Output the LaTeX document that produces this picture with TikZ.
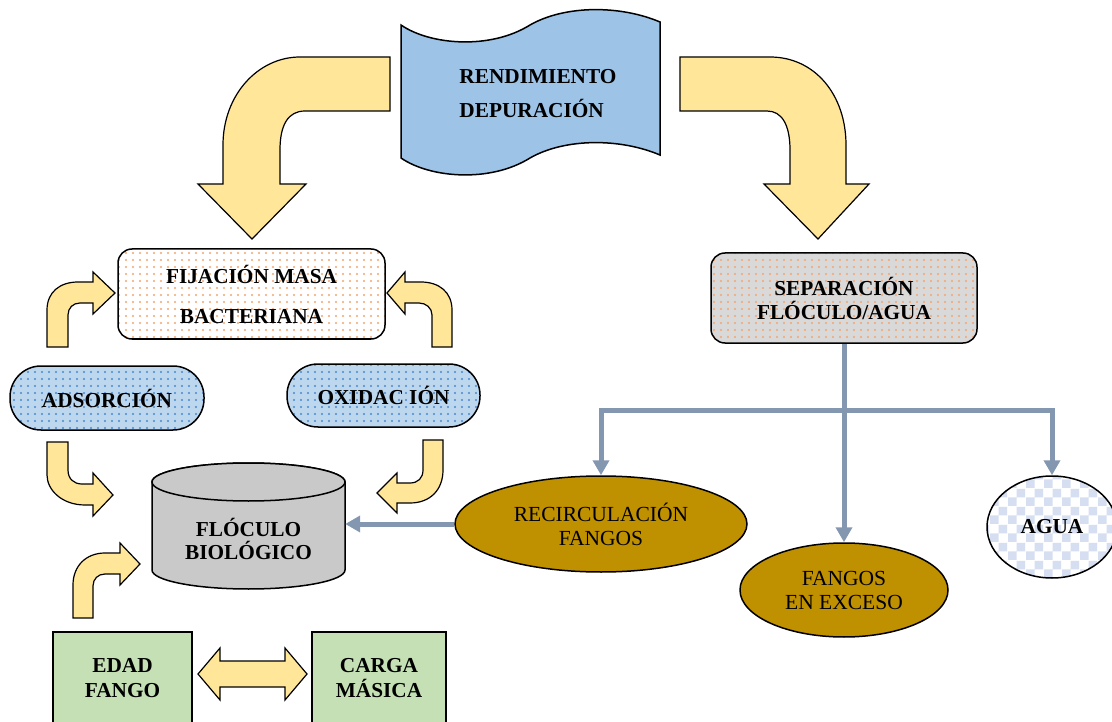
\documentclass[tikz,border=0pt]{standalone}
\usepackage{fontspec}
\setmainfont{Liberation Serif}
\usetikzlibrary{shapes.geometric,arrows.meta,patterns.meta}

\definecolor{bannerblue}{HTML}{9DC3E6}
\definecolor{arrowgold}{HTML}{FFE699}
\definecolor{cylgray}{HTML}{C9C9C9}
\definecolor{boxgreen}{HTML}{C5E0B4}
\definecolor{sludge}{HTML}{BF9000}
\definecolor{pipeblue}{HTML}{8497B0}
\definecolor{capblue}{HTML}{BDD7EE}
\definecolor{capdot}{HTML}{4A88CC}
\definecolor{peachdot}{HTML}{F2A571}
\definecolor{sepgray}{HTML}{D9D9D9}
\definecolor{checkblue}{HTML}{D6DFF2}

% light checkerboard used for the water ellipse
\tikzdeclarepattern{
  name=checks,
  type=uncolored,
  bottom left={(0pt,0pt)},
  top right={(18pt,18pt)},
  tile size={(18pt,18pt)},
  code={
    \pgfpathrectangle{\pgfpointorigin}{\pgfpoint{9pt}{9pt}}
    \pgfpathrectangle{\pgfpoint{9pt}{9pt}}{\pgfpoint{9pt}{9pt}}
    \pgfusepath{fill}
  }
}

\begin{document}
\begin{tikzpicture}[x=1pt,y=-1pt,
  every node/.style={inner sep=0pt, align=center,
    font=\fontsize{21.3}{24}\selectfont\bfseries},
  outline/.style={draw=black, line width=1.5pt},
  blockarrow/.style={fill=arrowgold, draw=black, line width=1.2pt, line join=miter},
  peachbox/.style={outline, rounded corners=14pt, preaction={fill=white},
    pattern={Dots[radius=1.1pt,distance=7pt]}, pattern color=peachdot},
  graybox/.style={outline, rounded corners=14pt, preaction={fill=sepgray},
    pattern={Dots[radius=1.1pt,distance=7pt]}, pattern color=peachdot},
  capsule/.style={outline, rounded corners=31pt, preaction={fill=capblue},
    pattern={Dots[radius=1.1pt,distance=7pt]}, pattern color=capdot},
  greenbox/.style={outline, fill=boxgreen},
  sludgeell/.style={ellipse, outline, fill=sludge,
    font=\fontsize{21.5}{24}\selectfont\mdseries},
  pipe/.style={draw=pipeblue, line width=5pt, line join=miter},
  pipetip/.tip={Triangle[length=15pt,width=16pt]}
]
\useasboundingbox (0,0) rectangle (1112,722);

% ---------- banner ----------
\draw[outline, fill=bannerblue]
  (401,25) .. controls (430,45) and (490,50) .. (530,25)
  .. controls (565,5) and (620,5) .. (660,22)
  -- (660,155) .. controls (620,138) and (565,138) .. (530,158)
  .. controls (490,183) and (430,178) .. (401,158) -- cycle;
\node[align=left] (ban) at (538,94) {RENDIMIENTO\\[10pt]DEPURACIÓN};

% ---------- big curved arrows from the banner ----------
\draw[blockarrow]
  (390,57) -- (300,57) .. controls (258,57) and (223,95) .. (223,145)
  -- (223,184) -- (198,184) -- (252,239) -- (306,184) -- (280,184)
  -- (280,150) .. controls (280,125) and (288,111) .. (305,111)
  -- (390,111) -- cycle;
\draw[blockarrow]
  (680,57) -- (770,57) .. controls (815,57) and (846,95) .. (846,145)
  -- (846,184) -- (869,184) -- (818,239) -- (764,184) -- (790,184)
  -- (790,150) .. controls (790,125) and (782,111) .. (767,111)
  -- (680,111) -- cycle;

% ---------- boxes ----------
\node[peachbox, minimum width=267pt, minimum height=90pt] (fij) at (251.5,294)
  {FIJACIÓN MASA\\[16pt]BACTERIANA};
\node[capsule, minimum width=194pt, minimum height=64pt] (ads) at (107,398) {ADSORCIÓN};
\node[capsule, minimum width=193pt, minimum height=63pt] (oxi) at (383.5,395.5) {OXIDAC IÓN};
\node[graybox, minimum width=266pt, minimum height=90pt] (sep) at (844,298)
  {SEPARACIÓN\\FLÓCULO/AGUA};

% ---------- small bent arrows ----------
\draw[blockarrow]
  (47,347) -- (47,310) .. controls (47,292) and (60,282) .. (78,282)
  -- (93,282) -- (93,272) -- (115,293) -- (93,314) -- (93,303) -- (80,303)
  .. controls (73,303) and (68,308) .. (68,315) -- (68,347) -- cycle;
\draw[blockarrow]
  (452,347) -- (452,310) .. controls (452,292) and (439,282) .. (421,282)
  -- (405,282) -- (405,272) -- (387,293) -- (405,314) -- (405,303) -- (419,303)
  .. controls (426,303) and (432,308) .. (432,315) -- (432,347) -- cycle;
\draw[blockarrow]
  (47,442) -- (68,442) -- (68,470) .. controls (68,479) and (74,484) .. (82,484)
  -- (93,484) -- (93,473) -- (113,495) -- (93,516) -- (93,505) -- (85,505)
  .. controls (62,505) and (47,490) .. (47,475) -- cycle;
\draw[blockarrow]
  (423,440) -- (443,440) -- (443,470) .. controls (443,490) and (430,503) .. (410,503)
  -- (397,503) -- (397,513) -- (377,493) -- (397,473) -- (397,483) -- (410,483)
  .. controls (418,483) and (423,478) .. (423,470) -- cycle;
\draw[blockarrow]
  (73,618) -- (73,585) .. controls (73,566) and (86,553) .. (105,553)
  -- (120,553) -- (120,543) -- (140,564) -- (120,585) -- (120,574) -- (105,574)
  .. controls (98,574) and (93,579) .. (93,586) -- (93,618) -- cycle;

% ---------- biological floc cylinder ----------
\draw[outline, fill=cylgray]
  (152,482) -- (152,570)
  arc[start angle=180, end angle=360, x radius=96.5pt, y radius=19pt]
  -- (345,482)
  arc[start angle=0, end angle=180, x radius=96.5pt, y radius=19pt] -- cycle;
\draw[outline, fill=cylgray] (248.5,482) ellipse [x radius=96.5pt, y radius=19pt];
\node[minimum width=193pt] (flo) at (248.5,538.5) {FLÓCULO\\[-1pt]BIOLÓGICO};

% ---------- sludge age / mass loading ----------
\node[greenbox, minimum width=139pt, minimum height=92pt] (edad) at (122.5,678)
  {EDAD\\[1pt]FANGO};
\node[greenbox, minimum width=134pt, minimum height=92pt] (carga) at (379,678)
  {CARGA\\[1pt]MÁSICA};
\draw[blockarrow]
  (198,674) -- (220,648) -- (220,661) -- (285,661) -- (285,648) -- (307,674)
  -- (285,700) -- (285,687) -- (220,687) -- (220,700) -- cycle;

% ---------- separation outputs ----------
\node[sludgeell, minimum width=292pt, minimum height=96pt] (rec) at (601,524)
  {RECIRCULACIÓN\\FANGOS};
\node[sludgeell, minimum width=208pt, minimum height=94pt] (fex) at (844,590)
  {FANGOS\\EN EXCESO};
\node[ellipse, outline, preaction={fill=white}, pattern=checks, pattern color=checkblue,
  minimum width=130pt, minimum height=102pt] (agua) at (1052,527) {AGUA};

\coordinate (split) at (844,410);
\draw[pipe, -pipetip] (sep.south) -- (fex.north);
\draw[pipe, pipetip-pipetip] (rec.north) |- (split) -| (agua.north);
\draw[pipe, -pipetip] (rec.west) -- (rec.west -| flo.east);
\end{tikzpicture}
\end{document}
